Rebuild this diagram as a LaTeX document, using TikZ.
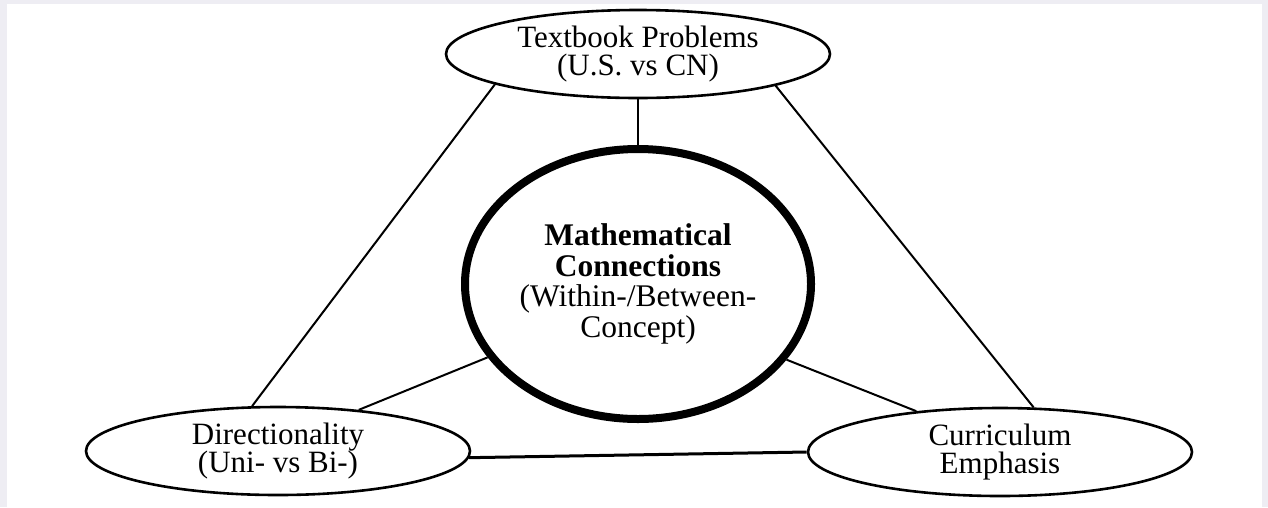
\documentclass[tikz,border=0pt]{standalone}
\usepackage{fontspec}
\setmainfont{Liberation Serif}
\usetikzlibrary{shapes.geometric}
\definecolor{pagegray}{RGB}{238,237,243}
\begin{document}
\begin{tikzpicture}[x=1pt,y=-1pt,
  topic/.style={ellipse,draw=black,line width=2.6pt,minimum width=384pt,minimum height=88pt,inner sep=0pt,align=center,font=\fontsize{31}{28.5}\selectfont},
  core/.style={ellipse,draw=black,line width=8pt,minimum width=346pt,minimum height=270pt,inner sep=0pt,align=center,font=\fontsize{31.5}{30.5}\selectfont},
  link/.style={draw=black,line width=2pt},
]
\useasboundingbox (0,0) rectangle (1268,507);
\fill[pagegray] (0,0) rectangle (1268,507);
\fill[white] (7,4) rectangle (1262,507);

\node[topic] (tb) at (638,54) {Textbook Problems\\(U.S. vs CN)};
\node[core] (mc) at (638,284) {\textbf{Mathematical}\\\textbf{Connections}\\(Within-/Between-\\Concept)};
\node[topic] (dir) at (278,451) {Directionality\\(Uni- vs Bi-)};
\node[topic] (cur) at (1000,452) {Curriculum\\Emphasis};

\draw[link] (tb.270) -- (mc.90);
\draw[link] (tb.192) -- (dir.120);
\draw[link] (tb.347) -- (cur.53);
\draw[link] (mc.206) -- (dir.27);
\draw[link] (mc.333) -- (cur.154);
\draw[link,line width=3pt] (dir.358) -- (cur.180);
\end{tikzpicture}
\end{document}
